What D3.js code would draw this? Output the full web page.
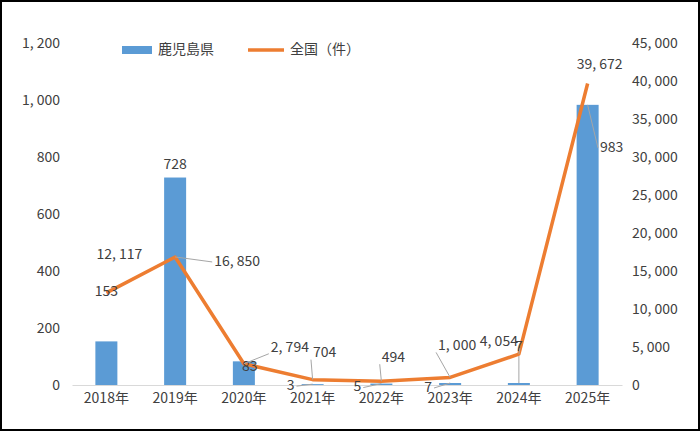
<!DOCTYPE html>
<html>
<head>
<meta charset="utf-8">
<script src="https://cdn.jsdelivr.net/npm/d3@7"></script>
<style>
  body { margin: 0; background: #fff; }
  text { font-family: "Noto Sans CJK JP", sans-serif; fill: #404040; }
</style>
</head>
<body>
<script>
  // Data
  var years = ['2018年', '2019年', '2020年', '2021年', '2022年', '2023年', '2024年', '2025年'];
  var kagoshima = [153, 728, 83, 3, 5, 7, 7, 983];
  var national = [12117, 16850, 2794, 704, 494, 1000, 4054, 39672];
  var leftTicks = [0, 200, 400, 600, 800, 1000, 1200];
  var rightTicks = [0, 5000, 10000, 15000, 20000, 25000, 30000, 35000, 40000, 45000];

  // label offsets (dx, dy) relative to the mark, and leader flags
  var barLabelOff = [[0, -49], [0, -12], [6, 6], [-22, 2], [-24, 4], [-22, 5], [0, -36], [24, 43]];
  var barLeader = [false, false, false, true, true, true, true, true];
  var lineLabelOff = [[13, -38], [62, 5], [46, -16], [12, -26], [12, -23], [7, -31], [-20, -12], [12, -18]];
  var lineLeader = [false, true, true, true, true, true, true, false];

  var w = 700, h = 433;
  var m = { left: 72, right: 78, top: 43, bottom: 48 };

  function fmt(d) {
    return d3.format(',')(d).replace(/,/g, ', ');
  }

  var svg = d3.select('body').append('svg')
    .attr('width', w)
    .attr('height', h);

  svg.append('rect')
    .attr('x', 1).attr('y', 1)
    .attr('width', w - 2).attr('height', h - 4)
    .attr('fill', 'none').attr('stroke', '#000').attr('stroke-width', 2);

  var x = d3.scaleBand()
    .domain(years)
    .range([m.left, w - m.right])
    .paddingInner(0.68).paddingOuter(0.34);

  var yL = d3.scaleLinear().domain([0, 1200]).range([h - m.bottom, m.top]);
  var yR = d3.scaleLinear().domain([0, 45000]).range([h - m.bottom, m.top]);

  var cx = function(i) { return x(years[i]) + x.bandwidth() / 2; };

  // axes
  var gl = svg.append('g')
    .attr('transform', 'translate(' + m.left + ',0)')
    .call(d3.axisLeft(yL).tickValues(leftTicks).tickFormat(fmt).tickSize(0).tickPadding(12));
  gl.select('.domain').remove();

  var gr = svg.append('g')
    .attr('transform', 'translate(' + (w - m.right) + ',0)')
    .call(d3.axisRight(yR).tickValues(rightTicks).tickFormat(fmt).tickSize(0).tickPadding(10));
  gr.select('.domain').remove();

  var gx = svg.append('g')
    .attr('transform', 'translate(0,' + (h - m.bottom) + ')')
    .call(d3.axisBottom(x).tickSize(0).tickPadding(8));
  gx.select('.domain').attr('stroke', '#d9d9d9');

  svg.selectAll('.tick text').attr('font-size', 14).attr('fill', '#404040');

  // bars
  svg.selectAll('rect.bar')
    .data(kagoshima)
    .enter()
    .append('rect')
    .attr('class', 'bar')
    .attr('x', function(d, i) { return x(years[i]); })
    .attr('y', function(d) { return yL(d); })
    .attr('width', x.bandwidth())
    .attr('height', function(d) { return yL(0) - yL(d); })
    .attr('fill', '#5b9bd5');

  // line
  var line = d3.line()
    .x(function(d, i) { return cx(i); })
    .y(function(d) { return yR(d); });

  svg.append('path')
    .datum(national)
    .attr('d', line)
    .attr('fill', 'none')
    .attr('stroke', '#ed7d31')
    .attr('stroke-width', 3.5)
    .attr('stroke-linejoin', 'round');

  // labels
  function labels(data, ys, off, leader) {
    data.forEach(function(d, i) {
      var px = cx(i), py = ys(d);
      var lx = px + off[i][0], ly = py + off[i][1];
      var tx = svg.append('text')
        .attr('x', lx).attr('y', ly)
        .attr('text-anchor', 'middle')
        .attr('dominant-baseline', 'middle')
        .attr('font-size', 14)
        .text(fmt(d));
      if (leader[i]) {
        var half = tx.node().getComputedTextLength() / 2 + 2;
        var ex = off[i][0] === 0 ? lx : lx - Math.sign(off[i][0]) * half;
        var ey = off[i][0] === 0 ? ly + 9 : ly + (off[i][1] < 0 ? 6 : 0);
        svg.append('polyline')
          .attr('points', [[px, py], [ex, ey]].join(' '))
          .attr('fill', 'none').attr('stroke', '#a6a6a6').attr('stroke-width', 1);
      }
    });
  }
  labels(kagoshima, yL, barLabelOff, barLeader);
  labels(national, yR, lineLabelOff, lineLeader);

  // legend
  var lg = svg.append('g').attr('transform', 'translate(122,50)');
  lg.append('rect').attr('x', 0).attr('y', -4).attr('width', 30).attr('height', 8).attr('fill', '#5b9bd5');
  lg.append('text').attr('x', 36).attr('y', 0).attr('dominant-baseline', 'middle').attr('font-size', 14).text('鹿児島県');
  lg.append('line').attr('x1', 126).attr('x2', 162).attr('y1', 0).attr('y2', 0)
    .attr('stroke', '#ed7d31').attr('stroke-width', 3.5);
  lg.append('text').attr('x', 168).attr('y', 0).attr('dominant-baseline', 'middle').attr('font-size', 14).text('全国（件）');
</script>
</body>
</html>
